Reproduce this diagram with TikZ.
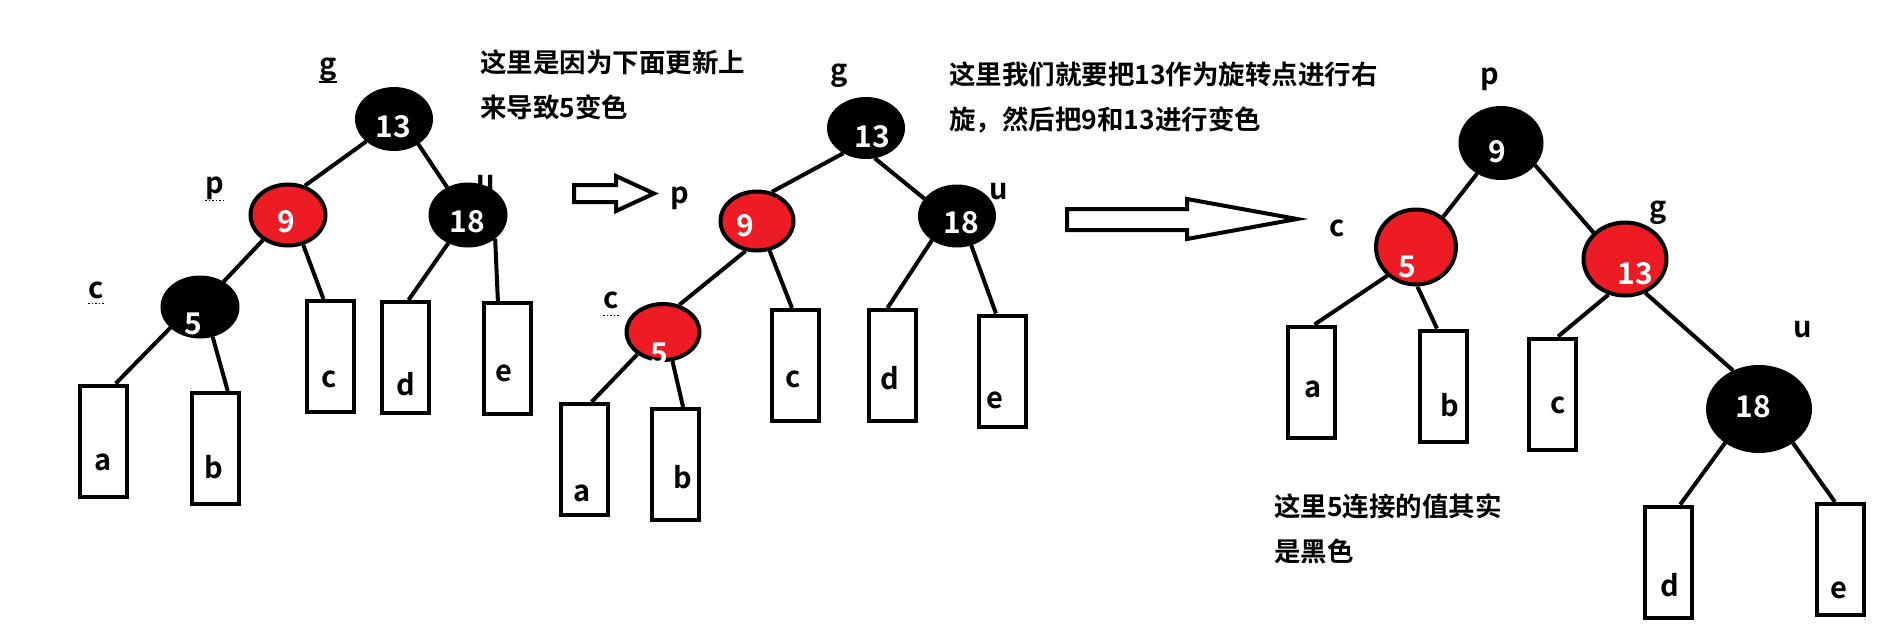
\documentclass[tikz,border=0pt]{standalone}
\usepackage{fontspec}
\setmainfont{Noto Sans CJK SC}[BoldFont={Noto Sans CJK SC Bold}]
\usetikzlibrary{shapes.geometric}

\definecolor{rbred}{HTML}{ED1C24}

\begin{document}
\begin{tikzpicture}[x=1pt, y=-1pt,
	blk/.style={ellipse, draw=black, fill=black, line width=4pt, inner sep=0pt},
	rednode/.style={ellipse, draw=black, fill=rbred, line width=4pt, inner sep=0pt},
	leaf/.style={rectangle, draw=black, fill=white, line width=4pt, minimum width=47pt, minimum height=111pt, inner sep=0pt},
	num/.style={text=white, inner sep=0pt, font=\bfseries\fontsize{30}{32}\selectfont},
	tag/.style={inner sep=0pt, font=\bfseries\fontsize{29}{31}\selectfont},
	edge/.style={line width=4pt},
	note/.style={anchor=north west, align=left, inner sep=0pt, font=\bfseries\fontsize{26.5}{45}\selectfont},
	hollow/.style={draw=black, fill=white, line width=4pt}]
	\useasboundingbox (0,0) rectangle (1887,630);

	% Tree 1: before the recolouring
	\node[tag] (lgA) at (328,70) {g};
	\node[tag] (lpA) at (215,188) {p};
	\node[tag] (lcA) at (96,290) {c};
	\node[tag] (luA) at (486,184) {u};
	\draw[line width=1.5pt] (lgA.south west) -- (lgA.south east);
	\draw[line width=1.5pt, dotted] ([yshift=-1pt]lpA.south west) -- ([yshift=-1pt]lpA.south east);
	\draw[line width=1.5pt, dotted] ([yshift=-5pt]lcA.south west) -- ([yshift=-5pt]lcA.south east);

	\node[blk, minimum width=74pt, minimum height=60pt] (gA) at (394,119) {};
	\node[rednode, minimum width=75pt, minimum height=61pt] (pA) at (288,215) {};
	\node[blk, minimum width=75pt, minimum height=61pt] (uA) at (468,215) {};
	\node[blk, minimum width=75pt, minimum height=59pt] (cA) at (200,307) {};
	\node[num] (tgA) at ([shift={(-1,8)}]gA.center) {13};
	\node[num] (tpA) at ([shift={(-2,7)}]pA.center) {9};
	\node[num] (tuA) at ([shift={(-1,7)}]uA.center) {18};
	\node[num] (tcA) at ([shift={(-7,17)}]cA.center) {5};

	\node[leaf] (aA) at (103.5,441) {};
	\node[leaf] (bA) at (215.5,448.5) {};
	\node[leaf] (ccA) at (330.5,356.5) {};
	\node[leaf] (dA) at (405.5,357.5) {};
	\node[leaf] (eA) at (507,358.5) {};
	\node[tag] (taA) at ([shift={(0,21)}]aA.center) {a};
	\node[tag] (tbA) at ([shift={(-1.5,18.5)}]bA.center) {b};
	\node[tag] (tccA) at ([shift={(-1.5,23)}]ccA.center) {c};
	\node[tag] (tdA) at ([shift={(0,26.5)}]dA.center) {d};
	\node[tag] (teA) at ([shift={(-3,15)}]eA.center) {e};

	\draw[edge] (gA.219) -- (pA.60);
	\draw[edge] (gA.314) -- (uA.127);
	\draw[edge] (pA.225) -- (cA.47);
	\draw[edge] (pA.297) -- (ccA.97);
	\draw[edge] (cA.215) -- (aA.78);
	\draw[edge] (cA.293) -- (bA.78);
	\draw[edge] (uA.235) -- (dA.87);
	\draw[edge] (uA.319) -- (eA.99);

	\node[note] (noteA) at (480,50) {这里是因为下面更新上\\来导致5变色};

	% first arrow
	\draw[hollow] (574,185) -- (616,185) -- (616,176) -- (654,193.5) -- (616,211) -- (616,202) -- (574,202) -- cycle;

	% Tree 2: 5 turns red
	\node[tag] (lgB) at (839,76) {g};
	\node[tag] (lpB) at (680,198) {p};
	\node[tag] (luB) at (999,192) {u};
	\node[tag] (lcB) at (611,300) {c};
	\draw[line width=1.5pt, dotted] ([yshift=-7pt]lcB.south west) -- ([yshift=-7pt]lcB.south east);

	\node[blk, minimum width=74pt, minimum height=58pt] (gB) at (866,128) {};
	\node[rednode, minimum width=73pt, minimum height=59pt] (pB) at (757,221) {};
	\node[blk, minimum width=74pt, minimum height=59pt] (uB) at (957,216) {};
	\node[rednode, minimum width=73pt, minimum height=56pt] (cB) at (663,332) {};
	\node[num] (tgB) at ([shift={(6,9)}]gB.center) {13};
	\node[num] (tpB) at ([shift={(-12,5)}]pB.center) {9};
	\node[num] (tuB) at ([shift={(4,7)}]uB.center) {18};
	\node[num] (tcB) at ([shift={(-4,22)}]cB.center) {5};

	\node[leaf] (aB) at (584.5,459.5) {};
	\node[leaf] (bB) at (675,464.5) {};
	\node[leaf] (ccB) at (795,365.5) {};
	\node[leaf] (dB) at (892.5,365.5) {};
	\node[leaf] (eB) at (1002,371) {};
	\node[tag] (taB) at ([shift={(-2.5,33.5)}]aB.center) {a};
	\node[tag] (tbB) at ([shift={(8,12.5)}]bB.center) {b};
	\node[tag] (tccB) at ([shift={(-2,13.5)}]ccB.center) {c};
	\node[tag] (tdB) at ([shift={(-2.5,12.5)}]dB.center) {d};
	\node[tag] (teB) at ([shift={(-7,29)}]eB.center) {e};

	\draw[edge] (gB.228) -- (pB.63);
	\draw[edge] (gB.286) -- (uB.152);
	\draw[edge] (pB.249) -- (cB.59);
	\draw[edge] (pB.293) -- (ccB.93);
	\draw[edge] (uB.224) -- (dB.95);
	\draw[edge] (uB.296) -- (eB.96);
	\draw[edge] (cB.221) -- (aB.83);
	\draw[edge] (cB.288) -- (bB.82);

	\node[note] (noteB) at (949,62) {这里我们就要把13作为旋转点进行右\\旋，然后把9和13进行变色};

	% second arrow
	\draw[hollow] (1067,209) -- (1187,209) -- (1187,199) -- (1297,219) -- (1187,239) -- (1187,230) -- (1067,230) -- cycle;

	% Tree 3: after the right rotation
	\node[tag] (lpC) at (1490,79) {p};
	\node[tag] (lcC) at (1337,228) {c};
	\node[tag] (lgC) at (1658,213) {g};
	\node[tag] (luC) at (1803,330) {u};

	\node[blk, minimum width=81pt, minimum height=70pt] (pC) at (1501,143) {};
	\node[rednode, minimum width=80pt, minimum height=75pt] (cC) at (1416,247) {};
	\node[rednode, minimum width=83pt, minimum height=73pt] (gC) at (1625,259) {};
	\node[blk, minimum width=102pt, minimum height=84pt] (uC) at (1759,409) {};
	\node[num] (tpC) at ([shift={(-4,9)}]pC.center) {9};
	\node[num] (tcC) at ([shift={(-9,20)}]cC.center) {5};
	\node[num] (tgC) at ([shift={(10,15)}]gC.center) {13};
	\node[num] (tuC) at ([shift={(-6,-2)}]uC.center) {18};

	\node[leaf] (aC) at (1311.5,382) {};
	\node[leaf] (bC) at (1443,386) {};
	\node[leaf] (ccC) at (1552,394) {};
	\node[leaf] (dC) at (1668,562) {};
	\node[leaf] (eC) at (1840,559.5) {};
	\node[tag] (taC) at ([shift={(1.5,7)}]aC.center) {a};
	\node[tag] (tbC) at ([shift={(7,19)}]bC.center) {b};
	\node[tag] (tccC) at ([shift={(6,11)}]ccC.center) {c};
	\node[tag] (tdC) at ([shift={(2,23)}]dC.center) {d};
	\node[tag] (teC) at ([shift={(-1,30.5)}]eC.center) {e};

	\draw[edge] (pC.232) -- (cC.48);
	\draw[edge] (pC.327) -- (gC.140);
	\draw[edge] (cC.225) -- (aC.87);
	\draw[edge] (cC.272) -- (bC.96);
	\draw[edge] (gC.245) -- (ccC.84);
	\draw[edge] (gC.301) -- (uC.124);
	\draw[edge] (uC.225) -- (dC.78);
	\draw[edge] (uC.315) -- (eC.95);

	\node[note] (noteC) at (1274,493) {这里5连接的值其实\\是黑色};
\end{tikzpicture}
\end{document}
